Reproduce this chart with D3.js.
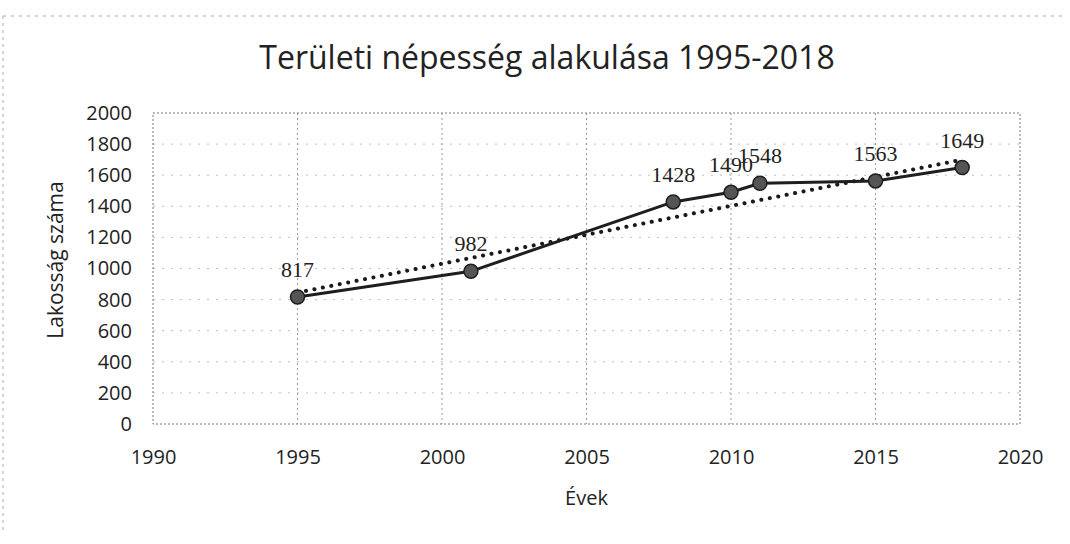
<!DOCTYPE html>
<html>
<head>
<meta charset="utf-8">
<script src="https://cdn.jsdelivr.net/npm/d3@7"></script>
<style>
  body { margin: 0; background: #fff; }
  svg { display: block; }
</style>
</head>
<body>
<svg id="chart"></svg>
<script>
// adatok
const years = [1995, 2001, 2008, 2010, 2011, 2015, 2018];
const population = [817, 982, 1428, 1490, 1548, 1563, 1649];
// lineáris trendvonal végpontjai (leolvasva)
const trendYears = [1995, 2018];
const trendValues = [845, 1700];
const xTicks = [1990, 1995, 2000, 2005, 2010, 2015, 2020];
const yTicks = [0, 200, 400, 600, 800, 1000, 1200, 1400, 1600, 1800, 2000];

const width = 1070;
const height = 544;
const plot = { left: 153, right: 1020, top: 113, bottom: 424 };

const svg = d3.select("#chart")
  .attr("width", width)
  .attr("height", height);

// külső keret halvány szaggatott vonala (fent és bal oldalt)
svg.append("line")
  .attr("x1", 3).attr("x2", 1066).attr("y1", 16).attr("y2", 16)
  .attr("stroke", "#aaa").attr("stroke-width", 1).attr("stroke-dasharray", "3,5");
svg.append("line")
  .attr("x1", 3).attr("x2", 3).attr("y1", 16).attr("y2", 530)
  .attr("stroke", "#aaa").attr("stroke-width", 1).attr("stroke-dasharray", "3,4");

const x = d3.scaleLinear()
  .domain([1990, 2020])
  .range([plot.left, plot.right]);

const y = d3.scaleLinear()
  .domain([0, 2000])
  .range([plot.bottom, plot.top]);

// rácsvonalak
svg.append("g")
  .attr("class", "grid-y")
  .selectAll("line")
  .data(yTicks.slice(1, -1))
  .enter().append("line")
  .attr("x1", plot.left).attr("x2", plot.right)
  .attr("y1", d => y(d)).attr("y2", d => y(d))
  .attr("stroke", "#bdbdbd")
  .attr("stroke-width", 1)
  .attr("stroke-dasharray", "2,7");

svg.append("g")
  .attr("class", "grid-x")
  .selectAll("line")
  .data(xTicks.slice(1, -1))
  .enter().append("line")
  .attr("x1", d => x(d)).attr("x2", d => x(d))
  .attr("y1", plot.top).attr("y2", plot.bottom)
  .attr("stroke", "#999")
  .attr("stroke-width", 1)
  .attr("stroke-dasharray", "2,3");

// rajzterület kerete
svg.append("rect")
  .attr("x", plot.left).attr("y", plot.top)
  .attr("width", plot.right - plot.left)
  .attr("height", plot.bottom - plot.top)
  .attr("fill", "none")
  .attr("stroke", "#777")
  .attr("stroke-width", 1)
  .attr("stroke-dasharray", "2,2");

// tengelyek
svg.append("g")
  .attr("class", "y-axis")
  .attr("transform", `translate(${plot.left},0)`)
  .call(d3.axisLeft(y).tickValues(yTicks).tickSize(0).tickPadding(21).tickFormat(d3.format("d")));

svg.append("g")
  .attr("class", "x-axis")
  .attr("transform", `translate(0,${plot.bottom})`)
  .call(d3.axisBottom(x).tickValues(xTicks).tickSize(0).tickPadding(26).tickFormat(d3.format("d")));

svg.selectAll(".y-axis .domain, .x-axis .domain").remove();
svg.selectAll(".y-axis text, .x-axis text")
  .attr("font-family", "Open Sans")
  .attr("font-size", 20)
  .attr("fill", "#222");

// trendvonal (pontozott)
const trend = trendYears.map((t, i) => [t, trendValues[i]]);
svg.append("path")
  .datum(trend)
  .attr("fill", "none")
  .attr("stroke", "#1a1a1a")
  .attr("stroke-width", 4)
  .attr("stroke-linecap", "round")
  .attr("stroke-dasharray", "0.1,8.5")
  .attr("d", d3.line().x(d => x(d[0])).y(d => y(d[1])));

// adatsor
const points = years.map((yr, i) => ({ year: yr, value: population[i] }));

svg.append("path")
  .datum(points)
  .attr("fill", "none")
  .attr("stroke", "#1e1e1e")
  .attr("stroke-width", 3)
  .attr("d", d3.line().x(d => x(d.year)).y(d => y(d.value)));

svg.selectAll(".marker")
  .data(points)
  .enter().append("circle")
  .attr("class", "marker")
  .attr("cx", d => x(d.year))
  .attr("cy", d => y(d.value))
  .attr("r", 7)
  .attr("fill", "#555")
  .attr("stroke", "#1e1e1e")
  .attr("stroke-width", 1.5);

// az 1490 és 1548 címke a mintán is egymásba lóg
svg.selectAll(".label")
  .data(points)
  .enter().append("text")
  .attr("class", "label")
  .attr("x", d => x(d.year))
  .attr("y", d => y(d.value) - 20)
  .attr("text-anchor", "middle")
  .attr("font-family", "Liberation Serif")
  .attr("font-size", 22)
  .attr("fill", "#222")
  .text(d => d.value);

// címek
svg.append("text")
  .attr("x", 547)
  .attr("y", 69)
  .attr("text-anchor", "middle")
  .attr("font-family", "Open Sans")
  .attr("font-size", 32)
  .attr("fill", "#222")
  .text("Területi népesség alakulása 1995-2018");

svg.append("text")
  .attr("x", x(2005))
  .attr("y", 505)
  .attr("text-anchor", "middle")
  .attr("font-family", "Open Sans")
  .attr("font-size", 20)
  .attr("fill", "#222")
  .text("Évek");

svg.append("text")
  .attr("transform", "translate(63,260) rotate(-90)")
  .attr("text-anchor", "middle")
  .attr("font-family", "Open Sans")
  .attr("font-size", 21)
  .attr("fill", "#222")
  .text("Lakosság  száma");
</script>
</body>
</html>
